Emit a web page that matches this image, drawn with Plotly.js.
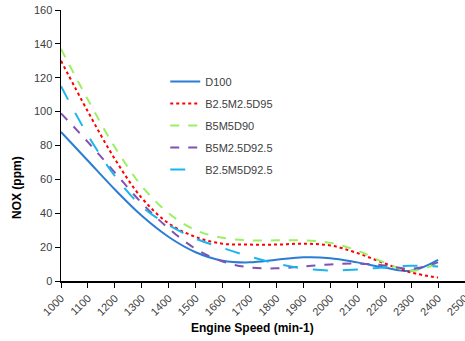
<!DOCTYPE html>
<html><head><meta charset="utf-8">
<script src="https://cdn.plot.ly/plotly-3.0.1.min.js"></script>
<style>html,body{margin:0;padding:0;background:#fff}#c{width:465px;height:341px}</style>
</head><body><div id="c"></div>
<script>
const speed = [1000,1100,1200,1300,1400,1500,1600,1700,1800,1900,2000,2100,2200,2300,2400];
const seriesNames = ["D100","B2.5M2.5D95","B5M5D90","B5M2.5D92.5","B2.5M5D92.5"];
const d100 = [88, 71, 54, 38.5, 26, 17, 12, 11, 12.5, 14, 13.5, 11, 8, 6, 12.5];
const b25m25d95 = [130, 100, 72, 49, 34, 26, 22, 21.5, 21.5, 22, 21, 16.5, 10.5, 5, 2];
const b5m5d90 = [137, 107, 79, 56, 40, 30, 25.5, 24, 24, 24, 22.5, 18, 11, 6, 10.5];
const b5m25d925 = [99, 82, 64, 46, 31, 19, 11.5, 8, 7.5, 8.6, 9.8, 10.3, 9.2, 7.2, 11];
const b25m5d925 = [115, 86, 62, 44, 33, 25, 19.5, 14.5, 10.3, 7.4, 6.2, 6.8, 8, 9, 8.6];
const xTicks = [1000,1100,1200,1300,1400,1500,1600,1700,1800,1900,2000,2100,2200,2300,2400,2500];
const yTicks = [0,20,40,60,80,100,120,140,160];

const values = [d100, b25m25d95, b5m5d90, b5m25d925, b25m5d925];
const styles = [
  {color:"#2b7cd3", dash:"solid"},
  {color:"#ff0000", dash:"dot"},
  {color:"#99f060", dash:"dash"},
  {color:"#7f52b3", dash:"dash"},
  {color:"#1bb5ee", dash:"longdash"}
];
const traces = values.map((v,i)=>({
  x: speed, y: v, name: seriesNames[i], type:"scatter", mode:"lines",
  legendgroup: "g"+i,
  line:{color:styles[i].color, dash:styles[i].dash, width:2, shape:"spline", smoothing:1}
}));

const font = {family:"Liberation Sans, Arial, sans-serif", size:11, color:"#404040"};
const layout = {
  width:465, height:341,
  margin:{l:61, r:0, t:10, b:60},
  paper_bgcolor:"#fff", plot_bgcolor:"#fff",
  font: font,
  showlegend:true,
  legend:{x:0.258, y:0.79, xanchor:"left", yanchor:"top", bgcolor:"rgba(0,0,0,0)",
          font:{family:"Liberation Sans, Arial, sans-serif", size:11, color:"#404040"},
          tracegroupgap:3},
  xaxis:{range:[1000,2500], tickmode:"array", tickvals:xTicks, ticktext:xTicks.map(String),
         tickangle:-45, showgrid:false, zeroline:false, showline:true, linecolor:"#000", linewidth:1.5,
         ticks:"outside", ticklen:5, tickcolor:"#000", automargin:false, ticklabeloverflow:"allow"},
  yaxis:{range:[0,160], tickmode:"array", tickvals:yTicks, showgrid:false, zeroline:false,
         showline:true, linecolor:"#000", linewidth:1.5, ticks:"outside", ticklen:5, tickcolor:"#000",
         automargin:false},
  annotations:[
    {text:"<b>Engine Speed (min-1)</b>", xref:"paper", yref:"paper", x:(252-61)/404, y:-(328-281)/271,
     xanchor:"center", yanchor:"middle", showarrow:false, font:{family:"Liberation Sans, Arial, sans-serif", size:12, color:"#000"}},
    {text:"<b>NOX (ppm)</b>", xref:"paper", yref:"paper", x:-(61-17)/404, y:(281-188)/271,
     xanchor:"center", yanchor:"middle", textangle:-90, showarrow:false, font:{family:"Liberation Sans, Arial, sans-serif", size:12, color:"#000"}}
  ]
};
Plotly.newPlot("c", traces, layout, {staticPlot:true, displayModeBar:false});
</script></body></html>
